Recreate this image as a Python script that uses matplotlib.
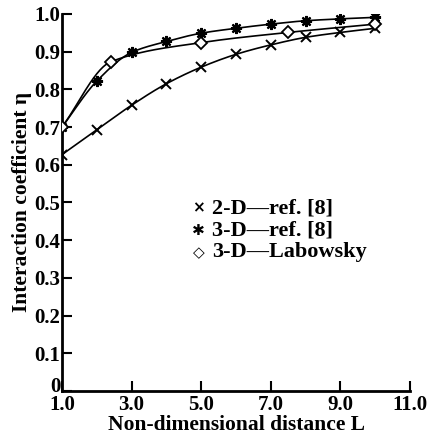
import numpy as np
import matplotlib
matplotlib.use("Agg")
import matplotlib.pyplot as plt
import matplotlib.transforms as mtransforms

# values
dist_2d = [1, 2, 3, 4, 5, 6, 7, 8, 9, 10]
eta_2d = [0.627, 0.693, 0.758, 0.815, 0.859, 0.893, 0.918, 0.938, 0.951, 0.962]

dist_3d = [1, 2, 3, 4, 5, 6, 7, 8, 9, 10]
eta_3d = [0.700, 0.822, 0.898, 0.927, 0.949, 0.962, 0.973, 0.982, 0.987, 0.991]

dist_lab = [1, 2.4, 5, 7.5, 10]
eta_lab = [0.700, 0.873, 0.924, 0.951, 0.973]

x_ticks = [1, 3, 5, 7, 9, 11]
x_ticklabels = ["1.0", "3.0", "5.0", "7.0", "9.0", "11.0"]
y_ticks = [0, 0.1, 0.2, 0.3, 0.4, 0.5, 0.6, 0.7, 0.8, 0.9, 1.0]
y_ticklabels = ["0", "0.1", "0.2", "0.3", "0.4", "0.5", "0.6", "0.7", "0.8", "0.9", "1.0"]


def smooth(x, y, n=200):
    # monotone cubic hermite curve through the points (for drawing the line only)
    x = np.asarray(x, float)
    y = np.asarray(y, float)
    h = np.diff(x)
    d = np.diff(y) / h
    m = np.zeros_like(y)
    m[0], m[-1] = d[0], d[-1]
    for i in range(1, len(x) - 1):
        if d[i - 1] * d[i] > 0:
            w1 = 2 * h[i] + h[i - 1]
            w2 = h[i] + 2 * h[i - 1]
            m[i] = (w1 + w2) / (w1 / d[i - 1] + w2 / d[i])
    xs = np.linspace(x[0], x[-1], n)
    k = np.clip(np.searchsorted(x, xs) - 1, 0, len(x) - 2)
    t = (xs - x[k]) / h[k]
    h00 = 2 * t**3 - 3 * t**2 + 1
    h10 = t**3 - 2 * t**2 + t
    h01 = -2 * t**3 + 3 * t**2
    h11 = t**3 - t**2
    ys = h00 * y[k] + h10 * h[k] * m[k] + h01 * y[k + 1] + h11 * h[k] * m[k + 1]
    return xs, ys


plt.rcParams['font.family'] = ['Liberation Serif', 'DejaVu Serif']
plt.rcParams['font.weight'] = 'bold'

fig = plt.figure(figsize=(4.29, 4.36), dpi=100)
ax = fig.add_axes([0.1445, 0.1032, 0.8115, 0.8648])

for xd, yd in [(dist_2d, eta_2d), (dist_3d, eta_3d), (dist_lab, eta_lab)]:
    xs, ys = smooth(xd, yd)
    ax.plot(xs, ys, color='black', lw=1.2, zorder=2)

ax.plot(dist_2d, eta_2d, ls='none', marker='x', ms=7, mew=1.4, color='black', zorder=3)
ax.plot(dist_3d, eta_3d, ls='none', marker=(8, 2, 0), ms=8, mew=1.6, color='black', zorder=3)
ax.plot(dist_lab, eta_lab, ls='none', marker='D', ms=6, mew=1.3, mfc='white', mec='black', zorder=4)

ax.set_xlim(1, 11)
ax.set_ylim(0, 1.0)
ax.set_xticks(x_ticks)
ax.set_xticklabels(x_ticklabels)
ax.set_yticks(y_ticks)
ax.set_yticklabels(y_ticklabels)
ax.tick_params(direction='in', length=7, width=1.5, labelsize=15, pad=1)
ax.tick_params(axis='x', pad=3)
for s in ['top', 'right']:
    ax.spines[s].set_visible(False)
for s in ['left', 'bottom']:
    ax.spines[s].set_linewidth(2)

# lift the "0" label a little so it clears the "1.0" below it
zero_lbl = ax.get_yticklabels()[0]
zero_lbl.set_transform(zero_lbl.get_transform() +
                       mtransforms.ScaledTranslation(0, 5 / 72, fig.dpi_scale_trans))

ax.set_xlabel('Non-dimensional distance L', fontsize=15.5, fontweight='bold', labelpad=0)
ax.set_ylabel('Interaction coefficient η', fontsize=15.5, fontweight='bold', labelpad=2)

# legend block in the middle of the plot
legend_rows = [('×', '2-D—ref. [8]', 0.485), ('✱', '3-D—ref. [8]', 0.427), ('◇', '3-D—Labowsky', 0.368)]
for sym, lab, yy in legend_rows:
    ax.text(4.93, yy, sym, fontsize=11, ha='center', va='center',
            family=['DejaVu Sans'])
    ax.text(5.3, yy, lab, fontsize=16, ha='left', va='center', fontweight='bold')

fig.savefig('out.png', dpi=100)
